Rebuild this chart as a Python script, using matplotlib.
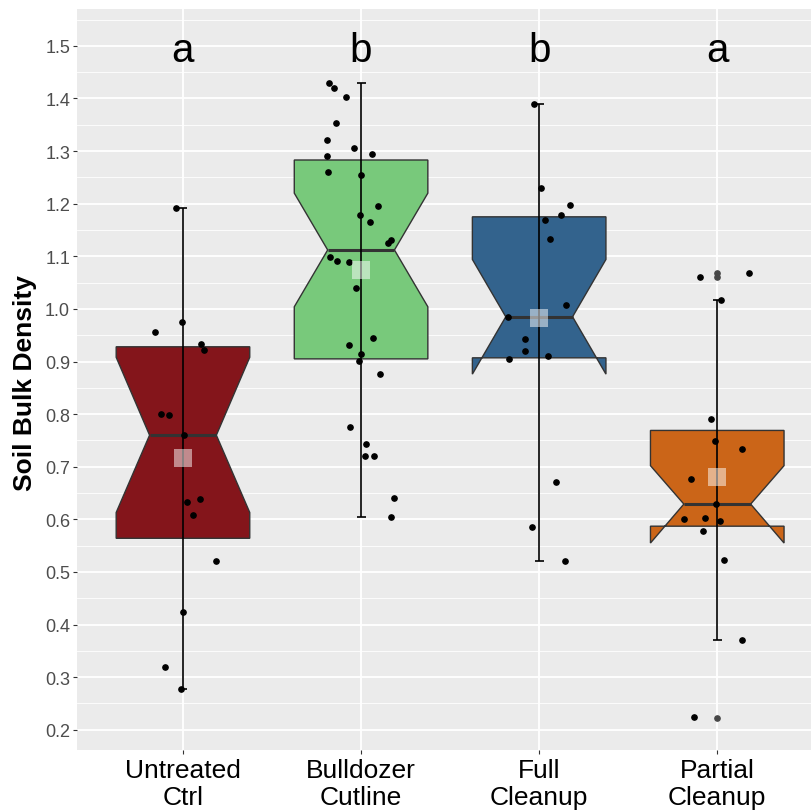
import numpy as np
import matplotlib
matplotlib.use("Agg")
import matplotlib.pyplot as plt

plt.rcParams["font.family"] = ["Liberation Sans", "DejaVu Sans"]

categories = ["Untreated\nCtrl", "Bulldozer\nCutline", "Full\nCleanup", "Partial\nCleanup"]
colors = ["#84151B", "#78C97B", "#33638D", "#CB6518"]
letters = ["a", "b", "b", "a"]

# box stats
q1 = [0.564, 0.905, 0.907, 0.587]
med = [0.760, 1.112, 0.985, 0.629]
q3 = [0.928, 1.283, 1.175, 0.769]
whislo = [0.278, 0.604, 0.521, 0.371]
whishi = [1.191, 1.430, 1.390, 1.016]
cilo = [0.613, 1.004, 0.876, 0.555]
cihi = [0.908, 1.220, 1.094, 0.702]
means = [0.717, 1.074, 0.983, 0.681]
outliers = [[], [], [], [1.069, 1.060, 0.222]]

# jittered raw points (value, horizontal jitter)
untreated_y = [1.191, 0.976, 0.956, 0.934, 0.922, 0.800, 0.798, 0.760, 0.633,
               0.639, 0.608, 0.520, 0.423, 0.320, 0.278]
untreated_dx = [-0.041, -0.006, -0.157, 0.101, 0.118, -0.125, -0.079, 0.007, 0.024,
                0.094, 0.058, 0.187, -0.002, -0.099, -0.011]
bulldozer_y = [1.430, 1.419, 1.403, 1.353, 1.321, 1.306, 1.295, 1.290, 1.260, 1.255,
               1.195, 1.179, 1.166, 1.131, 1.125, 1.099, 1.091, 1.089, 1.039, 0.944,
               0.931, 0.914, 0.901, 0.877, 0.776, 0.743, 0.720, 0.720, 0.641, 0.604]
bulldozer_dx = [-0.178, -0.153, -0.086, -0.140, -0.191, -0.041, 0.060, -0.191, -0.184, 0.000,
                0.096, -0.006, 0.051, 0.170, 0.153, -0.172, -0.137, -0.067, -0.028, 0.067,
                -0.069, 0.002, -0.010, 0.107, -0.063, 0.028, 0.024, 0.073, 0.184, 0.167]
full_y = [1.390, 1.230, 1.198, 1.179, 1.169, 1.133, 1.008, 0.985, 0.942, 0.920,
          0.911, 0.904, 0.671, 0.586, 0.521]
full_dx = [-0.030, 0.011, 0.174, 0.120, 0.034, 0.063, 0.153, -0.174, -0.080, -0.077,
           0.049, -0.170, 0.094, -0.038, 0.144]
partial_y = [1.060, 1.069, 1.017, 0.791, 0.748, 0.734, 0.676, 0.629, 0.600, 0.603,
             0.596, 0.577, 0.522, 0.371, 0.224]
partial_dx = [-0.096, 0.176, 0.021, -0.037, -0.013, 0.140, -0.149, -0.007, -0.185, -0.071,
              0.015, -0.079, 0.039, 0.140, -0.133]

points_y = [untreated_y, bulldozer_y, full_y, partial_y]
points_dx = [untreated_dx, bulldozer_dx, full_dx, partial_dx]

pos = np.arange(1, len(categories) + 1)

fig = plt.figure(figsize=(8.12, 8.12), dpi=100)
ax = fig.add_axes([77 / 812, 61 / 812, 735 / 812, 741 / 812])
ax.set_facecolor("#EBEBEB")

stats = []
for i in range(len(categories)):
    stats.append(dict(q1=q1[i], med=med[i], q3=q3[i], whislo=whislo[i], whishi=whishi[i],
                      cilo=cilo[i], cihi=cihi[i], fliers=outliers[i]))

bp = ax.bxp(stats, positions=pos, widths=0.75, shownotches=True, patch_artist=True,
            showcaps=False, showfliers=False,
            boxprops=dict(edgecolor="#333333", linewidth=1.0),
            whiskerprops=dict(linewidth=0),
            medianprops=dict(color="#333333", linewidth=2.2),
            zorder=2)
for patch, c in zip(bp["boxes"], colors):
    patch.set_facecolor(c)

# outliers from the boxplot, drawn at the centre
for p, o in zip(pos, outliers):
    if o:
        ax.plot([p] * len(o), o, "o", color="#474747", markersize=3.8, zorder=3)

# error-bar style whiskers through the box
ax.vlines(pos, whislo, whishi, color="black", linewidth=1.2, zorder=4)
ax.hlines(whislo, pos - 0.025, pos + 0.025, color="black", linewidth=1.2, zorder=4)
ax.hlines(whishi, pos - 0.025, pos + 0.025, color="black", linewidth=1.2, zorder=4)

for p, ys, dxs in zip(pos, points_y, points_dx):
    ax.plot(p + np.array(dxs), ys, "o", color="black", markersize=3.8, zorder=5)

ax.plot(pos, means, "s", color="white", alpha=0.5, markersize=13.5,
        markeredgewidth=0, zorder=6)

for p, l in zip(pos, letters):
    ax.text(p, 1.472, l, ha="center", va="baseline", fontsize=29, color="black")

ax.set_xlim(0.405, 4.532)
ax.set_ylim(0.1616, 1.570)
ax.set_xticks(pos)
ax.set_xticklabels(categories, fontsize=19, color="black", linespacing=1.13)
ax.set_yticks(np.arange(0.2, 1.51, 0.1))
ax.set_yticklabels([f"{v:.1f}" for v in np.arange(0.2, 1.51, 0.1)], fontsize=13, color="#4D4D4D")
ax.set_yticks(np.arange(0.25, 1.56, 0.1), minor=True)
ax.tick_params(axis="both", which="major", length=3, width=0.8, color="#333333", pad=2)
ax.tick_params(axis="x", which="major", pad=3)
ax.tick_params(axis="y", which="minor", length=0)
ax.grid(True, which="major", color="white", linewidth=1.3)
ax.grid(True, which="minor", axis="y", color="white", linewidth=0.6)
ax.set_axisbelow(True)
for s in ax.spines.values():
    s.set_visible(False)

fig.text(25 / 812, 1 - 383 / 812, "Soil Bulk Density", rotation=90, ha="center", va="center",
         fontsize=19, fontweight="bold")

fig.savefig("out.png", dpi=100)
